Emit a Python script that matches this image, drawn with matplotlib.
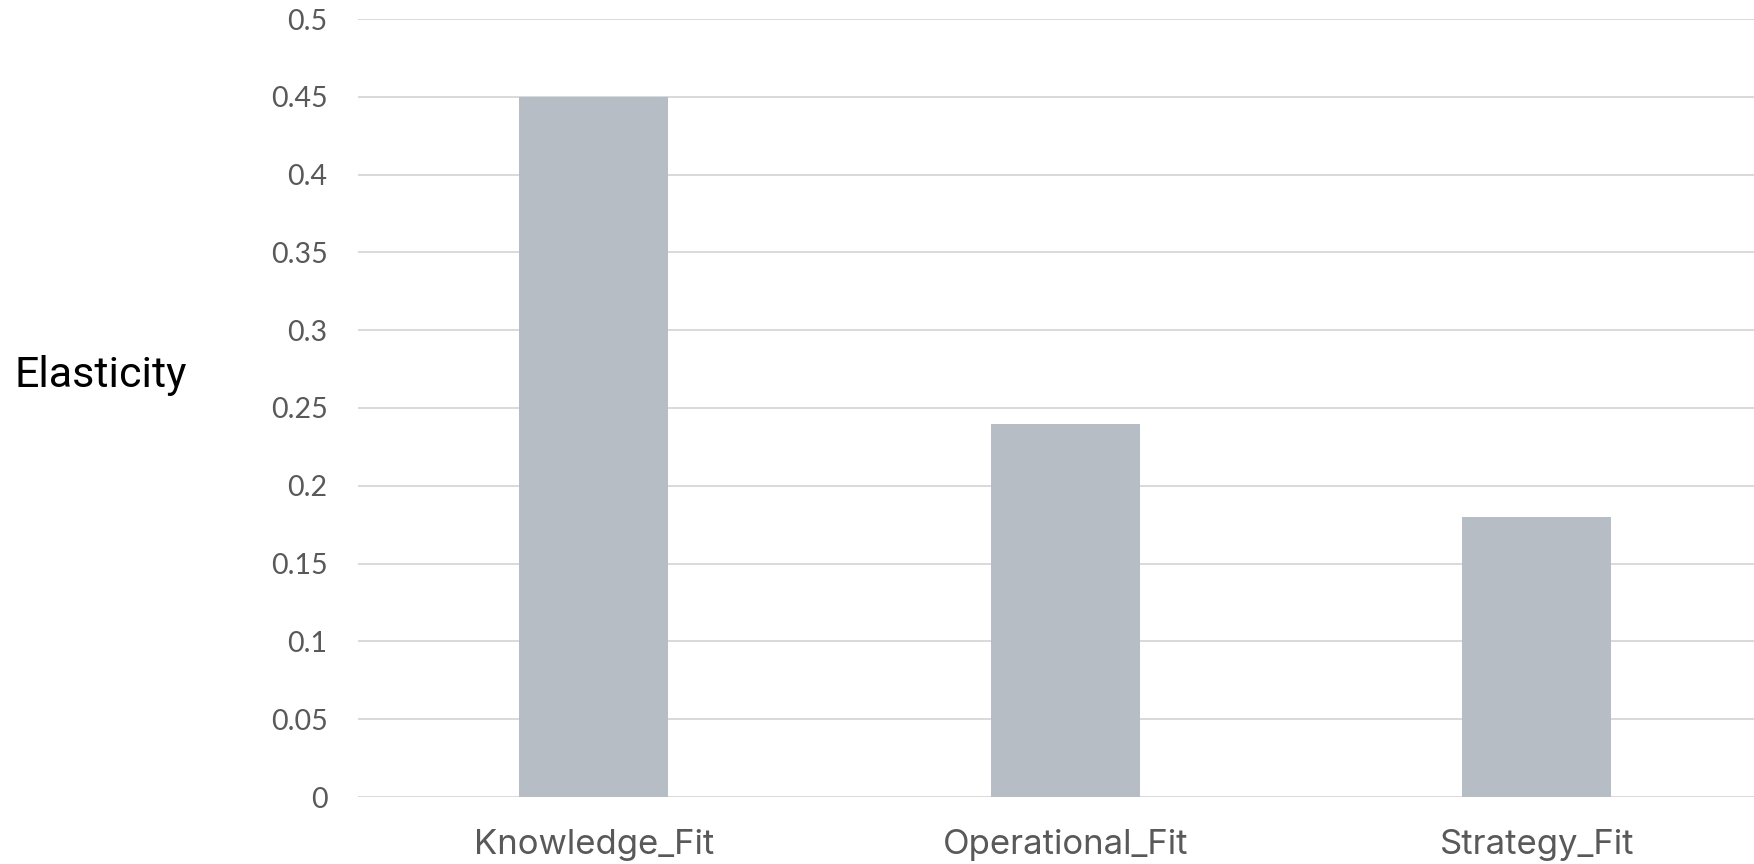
import matplotlib
matplotlib.use("Agg")
import matplotlib.pyplot as plt
from matplotlib.ticker import MultipleLocator, FuncFormatter

categories = ["Knowledge_Fit", "Operational_Fit", "Strategy_Fit"]
values = [0.45, 0.24, 0.18]
y_label = "Elasticity"

fig = plt.figure(figsize=(17.54, 8.64), dpi=100)
ax = fig.add_axes([358/1754, 1-797/864, 1414.5/1754, 778/864])

x = list(range(len(categories)))
ax.bar(x, values, width=0.315, color="#b6bdc4", zorder=3)

ax.set_xlim(-0.5, 2.5)
ax.set_ylim(0, 0.5)
ax.yaxis.set_major_locator(MultipleLocator(0.05))
ax.yaxis.set_major_formatter(FuncFormatter(lambda v, p: f"{round(v, 2):g}"))
ax.set_xticks(x)
ax.set_xticklabels(categories)

for s in ax.spines.values():
    s.set_visible(False)
ax.grid(axis="y", color="#d9d9d9", linewidth=1.4, zorder=0)
ax.set_axisbelow(True)
ax.tick_params(axis="both", length=0)
ax.tick_params(axis="y", pad=22, labelsize=20.5, labelcolor="#595959")
ax.tick_params(axis="x", pad=23, labelsize=25, labelcolor="#595959")
for t in ax.get_yticklabels():
    t.set_fontfamily(["Lato", "DejaVu Sans"])
    t.set_fontweight("normal")
for t in ax.get_xticklabels():
    t.set_fontfamily(["Inter", "DejaVu Sans"])

fig.text(14/1754, 1-375/864, y_label, fontsize=31, family=["Roboto", "DejaVu Sans"],
         color="black", ha="left", va="center")

fig.savefig("out.png", dpi=100, facecolor="white")
